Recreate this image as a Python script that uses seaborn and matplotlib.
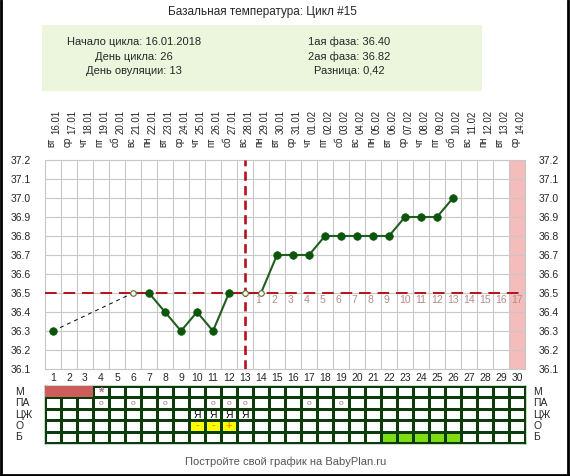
import numpy as np
import pandas as pd
import matplotlib.pyplot as plt
from matplotlib.colors import ListedColormap
from matplotlib.patches import Rectangle
from matplotlib.lines import Line2D
import seaborn as sns

# Chart data
days = list(range(1, 31))
dates = ["16.01", "17.01", "18.01", "19.01", "20.01", "21.01", "22.01", "23.01", "24.01", "25.01",
         "26.01", "27.01", "28.01", "29.01", "30.01", "31.01", "01.02", "02.02", "03.02", "04.02",
         "05.02", "06.02", "07.02", "08.02", "09.02", "10.02", "11.02", "12.02", "13.02", "14.02"]
weekdays = ["вт", "ср", "чт", "пт", "сб", "вс", "пн", "вт", "ср", "чт",
            "пт", "сб", "вс", "пн", "вт", "ср", "чт", "пт", "сб", "вс",
            "пн", "вт", "ср", "чт", "пт", "сб", "вс", "пн", "вт", "ср"]
temps = [36.3, np.nan, np.nan, np.nan, np.nan, 36.5, 36.5, 36.4, 36.3, 36.4,
         36.3, 36.5, 36.5, 36.5, 36.7, 36.7, 36.7, 36.8, 36.8, 36.8,
         36.8, 36.8, 36.9, 36.9, 36.9, 37.0, np.nan, np.nan, np.nan, np.nan]
hollow_days = [6, 13, 14]
ovulation_day = 13
coverline = 36.5
phase2_start = 14
expected_period_day = 30
y_ticks = [36.1, 36.2, 36.3, 36.4, 36.5, 36.6, 36.7, 36.8, 36.9, 37.0, 37.1, 37.2]

# Table rows
row_names = ["М", "ПА", "ЦЖ", "О", "Б"]
menses_days = [1, 2, 3]
spotting_days = [4]
pa_days = [4, 6, 8, 11, 12, 13, 17, 19]
mucus_days = [10, 11, 12, 13]
ov_tests = {10: "-", 11: "-", 12: "+"}
preg_tests = {22: "-", 23: "?", 24: "?", 25: "?", 26: "?"}

header_left = ["Начало цикла: 16.01.2018", "День цикла: 26", "День овуляции: 13"]
header_right = ["1ая фаза: 36.40", "2ая фаза: 36.82", "Разница: 0,42"]

sns.set_style("white")
plt.rcParams["font.family"] = ["Liberation Sans", "DejaVu Sans"]

W, H = 570, 476
fig = plt.figure(figsize=(W / 100, H / 100), dpi=100)


def px_box(x0, y0, x1, y1):
    return [x0 / W, 1 - y1 / H, (x1 - x0) / W, (y1 - y0) / H]


grid_col = "#c8c8c8"
red = "#b5121b"
green = "#0d550d"
table_line = "#0b3d0b"

# Main chart
ax = fig.add_axes(px_box(45, 160, 525, 369))
ax.set_xlim(0.5, 30.5)
ax.set_ylim(36.1, 37.2)
ax.set_xticks(np.arange(0.5, 31, 1))
ax.set_yticks(y_ticks)
ax.grid(True, color=grid_col, lw=0.8)
ax.set_axisbelow(True)
for s in ax.spines.values():
    s.set_color(grid_col)
    s.set_linewidth(0.8)
ax.tick_params(axis="x", length=0, labelbottom=False)
ax.tick_params(axis="y", length=0, labelleft=True, labelright=True, labelsize=7.5, pad=10)
ax.set_yticklabels([f"{v:.1f}" for v in y_ticks])

ax.axvspan(expected_period_day - 0.5, expected_period_day + 0.5, color="#f5bcbc", lw=0, zorder=0.5)

df = pd.DataFrame({"day": days, "temp": temps})
valid = df.dropna()

# dashed link over missing days
ax.plot(valid["day"].iloc[:2], valid["temp"].iloc[:2], color="black", lw=0.7,
        ls=(0, (4, 4)), zorder=2)
sns.lineplot(data=valid.iloc[1:], x="day", y="temp", ax=ax, color="#215e21", lw=1.5,
             estimator=None, zorder=3)

ax.axhline(coverline, color=red, lw=1.4, ls=(0, (6, 3.5)), zorder=4)
ax.axvline(ovulation_day, color=red, lw=1.9, ls=(0, (3.5, 2)), zorder=4)

filled = valid[~valid["day"].isin(hollow_days)]
hollow = valid[valid["day"].isin(hollow_days)]
sns.scatterplot(data=filled, x="day", y="temp", ax=ax, color=green, s=30,
                edgecolor=green, linewidth=0.5, zorder=5)
ax.scatter(hollow["day"], hollow["temp"], s=16, facecolor="white", edgecolor="#5a6e2a",
           linewidth=0.8, zorder=5)
ax.set_xlabel("")
ax.set_ylabel("")

# phase 2 day counts
for i, d in enumerate(range(phase2_start, 31)):
    ax.text(d - 0.5 + 0.16, coverline - 0.035, str(i + 1), color="#b58a8a", fontsize=7.5,
            ha="left", va="center", zorder=6)

# day numbers under chart
for d in days:
    ax.text(d, -0.045, str(d), transform=ax.get_xaxis_transform(), ha="center", va="center",
            fontsize=7.5)

# dates above chart
for d, dt, wd in zip(days, dates, weekdays):
    ax.text(d + 0.22, 1.182, dt, transform=ax.get_xaxis_transform(), rotation=90,
            ha="center", va="center", fontsize=7)
    ax.text(d - 0.1, 1.086, wd, transform=ax.get_xaxis_transform(), rotation=90,
            ha="center", va="center", fontsize=7)

# Table below
grid = np.zeros((len(row_names), len(days)))
for d in ov_tests:
    grid[3, d - 1] = 1
for d in preg_tests:
    grid[4, d - 1] = 2

tax = fig.add_axes(px_box(45, 386, 525, 443))
sns.heatmap(grid, ax=tax, cmap=ListedColormap(["white", "#ffff00", "#7ddc14"]),
            vmin=-0.5, vmax=2.5, cbar=False, linewidths=0.75, linecolor=table_line,
            xticklabels=False, yticklabels=False)
for s in tax.spines.values():
    s.set_visible(True)
    s.set_color(table_line)
    s.set_linewidth(1)

# menstruation block drawn as one strip
m0, m1 = min(menses_days) - 1, max(menses_days)
tax.add_patch(Rectangle((m0, 0), m1 - m0, 1, facecolor="#cd5c5c", edgecolor="none", zorder=3))

for d in spotting_days:
    tax.text(d - 0.5, 0.55, "*", color="#b07a8a", ha="center", va="center", fontsize=10,
             fontweight="bold")
for d in pa_days:
    tax.text(d - 0.5, 1.5, "o", color="#b07a7a", ha="center", va="center", fontsize=6)
for d in mucus_days:
    tax.text(d - 0.5, 2.5, "Я", color="black", ha="center", va="center", fontsize=7.5)
for d, t in ov_tests.items():
    tax.text(d - 0.5, 3.5, t, color="#e39a00", ha="center", va="center", fontsize=8,
             fontweight="bold")
for d, t in preg_tests.items():
    tax.text(d - 0.5, 4.5, t, color="#c8c400", ha="center", va="center", fontsize=6)

for i, name in enumerate(row_names):
    y = 1 - (386 + 11.4 * (i + 0.5)) / H
    fig.text(15 / W, y, name, ha="left", va="center", fontsize=7.5)
    fig.text(533 / W, y, name, ha="left", va="center", fontsize=7.5)

# Header
fig.patches.append(Rectangle((42 / W, 1 - 91 / H), 440 / W, 66 / H, transform=fig.transFigure,
                             color="#ebf6dd", lw=0, zorder=0))
fig.text(262 / W, 1 - 12 / H, "Базальная температура: Цикл #15", ha="center", va="center",
         fontsize=8.5)
for i, (l, r) in enumerate(zip(header_left, header_right)):
    y = 1 - (42 + 14.5 * i) / H
    fig.text(134 / W, y, l, ha="center", va="center", fontsize=8)
    fig.text(349 / W, y, r, ha="center", va="center", fontsize=8)

fig.text(286 / W, 1 - 462 / H, "Постройте свой график на BabyPlan.ru", ha="center", va="center",
         fontsize=8, color="#555555")

# Frame
for xs, ys in [([0.002, 0.002], [0, 1]), ([0.997, 0.997], [0, 1]), ([0, 1], [0.003, 0.003])]:
    fig.add_artist(Line2D(xs, ys, transform=fig.transFigure, color="black", lw=2))

fig.savefig("out.png", dpi=100)
